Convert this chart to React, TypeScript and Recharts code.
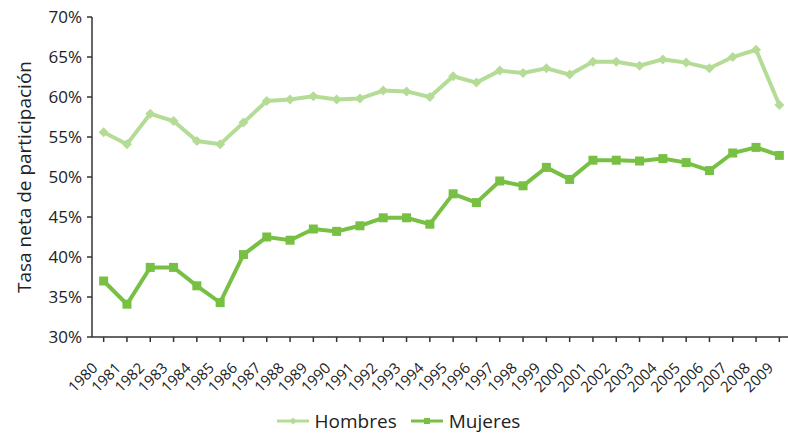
import { LineChart, Line, XAxis, YAxis, Legend } from 'recharts';

const years = [
  '1980', '1981', '1982', '1983', '1984', '1985', '1986', '1987', '1988', '1989',
  '1990', '1991', '1992', '1993', '1994', '1995', '1996', '1997', '1998', '1999',
  '2000', '2001', '2002', '2003', '2004', '2005', '2006', '2007', '2008', '2009',
];

const hombres = [
  55.6, 54.1, 57.9, 57.0, 54.5, 54.1, 56.8, 59.5, 59.7, 60.1,
  59.7, 59.8, 60.8, 60.7, 60.0, 62.6, 61.8, 63.3, 63.0, 63.6,
  62.8, 64.4, 64.4, 63.9, 64.7, 64.3, 63.6, 65.0, 65.9, 59.0,
];

const mujeres = [
  37.0, 34.1, 38.7, 38.7, 36.4, 34.3, 40.3, 42.5, 42.1, 43.5,
  43.2, 43.9, 44.9, 44.9, 44.1, 47.9, 46.8, 49.5, 48.9, 51.2,
  49.7, 52.1, 52.1, 52.0, 52.3, 51.8, 50.8, 53.0, 53.7, 52.7,
];

const yTicks = [30, 35, 40, 45, 50, 55, 60, 65, 70];

const HOMBRES_COLOR = '#b5dc97';
const MUJERES_COLOR = '#77c043';
const FONT = '"Open Sans", sans-serif';

const data = years.map((year, i) => ({ year, hombres: hombres[i], mujeres: mujeres[i] }));

// eslint-disable-next-line @typescript-eslint/no-explicit-any
const Diamond = ({ cx, cy, index }: any) => (
  <path
    key={`d-${index}`}
    d={`M${cx},${cy - 5} L${cx + 5},${cy} L${cx},${cy + 5} L${cx - 5},${cy} Z`}
    fill={HOMBRES_COLOR}
  />
);

// eslint-disable-next-line @typescript-eslint/no-explicit-any
const Square = ({ cx, cy, index }: any) => (
  <rect key={`s-${index}`} x={cx - 4.5} y={cy - 4.5} width={9} height={9} fill={MUJERES_COLOR} />
);

// eslint-disable-next-line @typescript-eslint/no-explicit-any
const YearTick = ({ x, y, payload }: any) => {
  const ax = x - 5;
  const ay = y + 25;
  return (
    <text
      x={ax}
      y={ay}
      transform={`rotate(-45, ${ax}, ${ay})`}
      textAnchor="end"
      fontSize={15}
      fontFamily={FONT}
      fill="#222"
    >
      {payload.value}
    </text>
  );
};

const LegendContent = () => (
  <div
    style={{
      display: 'flex', justifyContent: 'center', gap: 14, height: 26, lineHeight: '26px',
      fontFamily: FONT, fontSize: 19, color: '#222', paddingLeft: 6,
    }}
  >
    <span style={{ display: 'flex', alignItems: 'center', gap: 6 }}>
      <svg width={32} height={10}>
        <line x1={0} y1={5} x2={32} y2={5} stroke={HOMBRES_COLOR} strokeWidth={3} />
        <path d="M16,1.5 L19.5,5 L16,8.5 L12.5,5 Z" fill={HOMBRES_COLOR} />
      </svg>
      Hombres
    </span>
    <span style={{ display: 'flex', alignItems: 'center', gap: 6 }}>
      <svg width={32} height={10}>
        <line x1={0} y1={5} x2={32} y2={5} stroke={MUJERES_COLOR} strokeWidth={3} />
        <rect x={13} y={2} width={6} height={6} fill={MUJERES_COLOR} />
      </svg>
      Mujeres
    </span>
  </div>
);

export default function App() {
  return (
    <div style={{ position: 'absolute', left: 0, top: 0, width: 788, height: 434, background: '#fff' }}>
      <LineChart width={788} height={434} data={data} margin={{ top: 17, right: -3, left: 0, bottom: 0 }}>
        <XAxis
          dataKey="year"
          scale="band"
          interval={0}
          height={71}
          tick={<YearTick />}
          tickSize={5}
          stroke="#333"
          strokeWidth={1.5}
        />
        <YAxis
          domain={[30, 70]}
          ticks={yTicks}
          interval={0}
          width={92}
          tickFormatter={(v: number) => `${v}%`}
          tick={{ fontSize: 17, fontFamily: FONT, fill: '#222' }}
          tickSize={5}
          tickMargin={5}
          stroke="#333"
          strokeWidth={1.5}
          label={{
            value: 'Tasa neta de participación',
            angle: -90,
            position: 'insideLeft',
            offset: 24,
            style: { textAnchor: 'middle', fontSize: 19, fontFamily: FONT, fill: '#222' },
          }}
        />
        <Legend verticalAlign="bottom" content={<LegendContent />} />
        <Line
          type="linear"
          dataKey="hombres"
          name="Hombres"
          stroke={HOMBRES_COLOR}
          strokeWidth={4}
          dot={<Diamond />}
          activeDot={false}
          isAnimationActive={false}
        />
        <Line
          type="linear"
          dataKey="mujeres"
          name="Mujeres"
          stroke={MUJERES_COLOR}
          strokeWidth={4}
          dot={<Square />}
          activeDot={false}
          isAnimationActive={false}
        />
      </LineChart>
    </div>
  );
}
